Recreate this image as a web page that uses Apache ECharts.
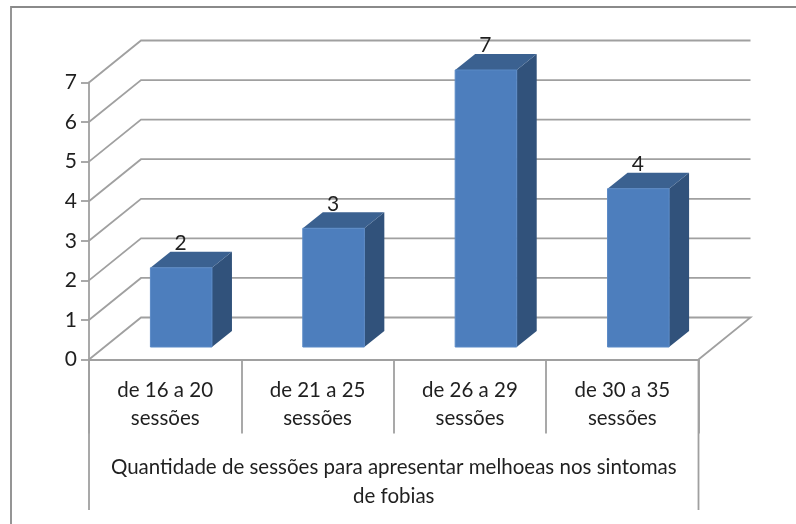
<!DOCTYPE html>
<html>
<head>
<meta charset="utf-8">
<style>html,body{margin:0;padding:0;background:#fff}#chart{width:796px;height:524px}</style>
<script src="https://cdn.jsdelivr.net/npm/echarts@6/dist/echarts.min.js"></script>
</head>
<body>
<div id="chart"></div>
<script>
// Sessions needed before phobia symptoms improved
const categories = ['de 16 a 20\nsessões', 'de 21 a 25\nsessões', 'de 26 a 29\nsessões', 'de 30 a 35\nsessões'];
const patientCounts = [2, 3, 7, 4];
const gridLevels = [0, 1, 2, 3, 4, 5, 6, 7];
const axisTitle = 'Quantidade de sessões para apresentar melhoeas nos sintomas\nde fobias';

const FONT = 'Lato';
const TEXT = '#1f1f1f';
const LINE = '#a0a0a0';
// Oblique projection of the wall and of each column
const wallDepth = [52, -42];
const barInset = [16, -12.5];
const barDepth = [20, -16];
const barRatio = 0.404;

const chart = echarts.init(document.getElementById('chart'), null, {renderer: 'canvas'});

function renderGridLevel(params, api) {
  const level = api.value(0);
  const band = api.size([1, 0])[0];
  const a = api.coord([0, level]);
  const left = a[0] - band / 2;
  const right = left + band * categories.length;
  const y = a[1];
  const pts = [[left, y], [left + wallDepth[0], y + wallDepth[1]], [right + wallDepth[0], y + wallDepth[1]]];
  if (level === 0) pts.push([right, y]);
  return {
    type: 'polyline',
    shape: {points: pts},
    style: {stroke: LINE, lineWidth: 1.8, fill: 'none'}
  };
}

function renderColumn(params, api) {
  const idx = api.value(0);
  const val = api.value(1);
  const top = api.coord([idx, val]);
  const base = api.coord([idx, 0]);
  const w = api.size([1, 0])[0] * barRatio;
  const x0 = top[0] - w / 2 + barInset[0];
  const x1 = x0 + w;
  const yT = top[1] + barInset[1];
  const yB = base[1] + barInset[1];
  const dx = barDepth[0];
  const dy = barDepth[1];
  return {
    type: 'group',
    children: [
      {type: 'polygon', shape: {points: [[x1, yT], [x1 + dx, yT + dy], [x1 + dx, yB + dy], [x1, yB]]},
        style: {fill: '#31527b'}},
      {type: 'polygon', shape: {points: [[x0, yT], [x0 + dx, yT + dy], [x1 + dx, yT + dy], [x1, yT]]},
        style: {fill: '#3b6190'}},
      {type: 'rect', shape: {x: x0, y: yT, width: w, height: yB - yT},
        style: {fill: '#4d7ebd', stroke: '#5b8ac6', lineWidth: 1}},
      {type: 'text', style: {
        text: String(val), x: (x0 + x1) / 2 - 0.5, y: yT + dy + 2,
        align: 'center', verticalAlign: 'bottom',
        fontFamily: FONT, fontSize: 21, fill: TEXT
      }}
    ]
  };
}

chart.setOption({
  animation: false,
  backgroundColor: '#fff',
  grid: {left: 89, right: 97.5, top: 82.5, bottom: 164.5, containLabel: false},
  xAxis: {
    type: 'category',
    data: categories,
    boundaryGap: true,
    axisLine: {lineStyle: {color: LINE, width: 1.8}},
    axisTick: {show: true, length: 74, lineStyle: {color: LINE, width: 1.8}},
    axisLabel: {fontFamily: FONT, fontSize: 20.5, color: TEXT, lineHeight: 28, margin: 17},
    name: axisTitle,
    nameLocation: 'middle',
    nameGap: 93,
    nameTextStyle: {fontFamily: FONT, fontSize: 20.5, color: TEXT, lineHeight: 29, verticalAlign: 'top'}
  },
  yAxis: {
    type: 'value',
    min: 0,
    max: 7,
    interval: 1,
    splitLine: {show: false},
    axisLine: {show: true, lineStyle: {color: LINE, width: 1.8}},
    axisTick: {show: true, length: 8, lineStyle: {color: LINE, width: 1.8}},
    axisLabel: {fontFamily: FONT, fontSize: 21, color: TEXT, margin: 12, padding: [5, 0, 0, 0]}
  },
  series: [
    {
      type: 'custom',
      coordinateSystem: 'cartesian2d',
      renderItem: renderGridLevel,
      data: gridLevels.map(v => [v]),
      encode: {y: 0},
      silent: true,
      z: 1
    },
    {
      type: 'custom',
      coordinateSystem: 'cartesian2d',
      renderItem: renderColumn,
      data: patientCounts.map((v, i) => [i, v]),
      encode: {x: 0, y: 1},
      z: 3
    }
  ],
  graphic: [
    // Outer frame and the long dividers framing the axis title
    {type: 'polyline', shape: {points: [[11, 524], [11, 7], [796, 7]]},
      style: {stroke: '#8a8a8a', lineWidth: 1.8, fill: 'none'}, z: 0},
    {type: 'line', shape: {x1: 89, y1: 360, x2: 89, y2: 510}, style: {stroke: LINE, lineWidth: 1.8}, z: 2},
    {type: 'line', shape: {x1: 698.5, y1: 360, x2: 698.5, y2: 510}, style: {stroke: LINE, lineWidth: 1.8}, z: 2}
  ]
});
</script>
</body>
</html>
